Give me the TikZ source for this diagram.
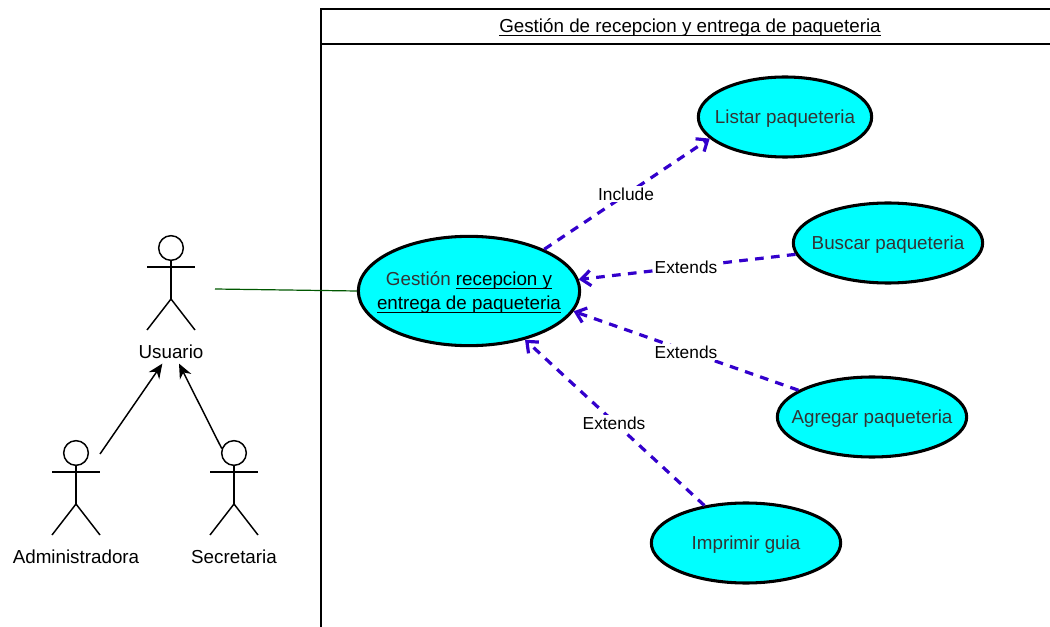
\documentclass[tikz,border=0pt]{standalone}
\usepackage{fontspec}
\setmainfont{Liberation Sans}
\usetikzlibrary{arrows.meta, shapes.geometric, calc}

\definecolor{casefill}{HTML}{00FFFF}
\definecolor{casetext}{HTML}{333333}
\definecolor{dashblue}{HTML}{3300CC}
\definecolor{linkgreen}{HTML}{005700}

\newsavebox{\ulinebox}
\newcommand{\ulin}[1]{\sbox{\ulinebox}{#1}\rlap{\rule[-2.2pt]{\wd\ulinebox}{0.8pt}}\usebox{\ulinebox}}

\tikzset{
    usecase/.style={ellipse, draw, line width=2.3pt, fill=casefill, text=casetext, inner xsep=-24pt, inner ysep=-8pt, text depth=0pt, font=\fontsize{14.1}{18}\selectfont, align=center},
    actorline/.style={line width=1.1pt},
    actorname/.style={font=\fontsize{14.1}{17}\selectfont},
    linklabel/.style={fill=white, inner sep=1pt, font=\fontsize{13}{15}\selectfont},
    dep/.style={draw=dashblue, line width=2.4pt, dash pattern=on 6.5pt off 5.5pt, -{Straight Barb[length=7pt, width=11.5pt, line width=2.4pt]}},
    inherit/.style={line width=1.1pt, -{Stealth[length=11pt, width=9.5pt]}},
    actor/.pic={
        \node[circle, draw, line width=1.1pt, minimum size=18.5pt, inner sep=0pt] (-head) at (0, 0) {};
        \draw[actorline] (-head.south) -- (0, 51);
        \draw[actorline] (-24, 19) -- (24, 19);
        \draw[actorline] (-24, 82) -- (0, 51) -- (24, 82);
    }
}

\begin{document}
\begin{tikzpicture}[x=0.75pt, y=-0.75pt]
    \useasboundingbox (0, 0) rectangle (1050, 627);

    % system frame
    \coordinate (framebl) at (321, 627);
    \coordinate (frametl) at (321, 9);
    \coordinate (frametr) at (1050, 9);
    \coordinate (headl) at (321, 44);
    \coordinate (headr) at (1050, 44);
    \draw[line width=0.9pt] (framebl) -- (frametl) -- (frametr);
    \draw[line width=0.9pt] (headl) -- (headr);
    \node[font=\fontsize{14.1}{16}\selectfont, text depth=0pt] (title) at (690, 26) {\ulin{Gestión de recepcion y entrega de paqueteria}};

    % actors
    \pic (usuario) at (171, 248) {actor};
    \pic (admin) at (76, 453) {actor};
    \pic (secre) at (234, 453) {actor};
    \node[actorname] (usuarioname) at (171, 352) {Usuario};
    \node[actorname] (adminname) at (76, 557) {Administradora};
    \node[actorname] (secrename) at (234, 557) {Secretaria};

    % use cases
    \node[usecase, minimum width=166pt, minimum height=82pt] (gestion) at (469, 291) {Gestión \textcolor{black}{\ulin{recepcion y}}\\\textcolor{black}{\ulin{entrega de paqueteria}}};
    \node[usecase, minimum width=130pt, minimum height=60pt] (listar) at (785, 117) {Listar paqueteria};
    \node[usecase, minimum width=142pt, minimum height=60pt] (buscar) at (888, 243) {Buscar paqueteria};
    \node[usecase, minimum width=142pt, minimum height=60pt] (agregar) at (872, 417) {Agregar paqueteria};
    \node[usecase, minimum width=142pt, minimum height=60pt] (imprimir) at (746, 543) {Imprimir guia};

    % links
    \coordinate (usuarioout) at (215, 289);
    \coordinate (adminout) at (100, 454);
    \draw[linkgreen, line width=0.9pt] (usuarioout) -- (gestion.west);
    \draw[inherit] (adminout) -- ([xshift=-6.5pt]usuarioname.south);
    \draw[inherit] (secre-head.160) -- ([xshift=6pt]usuarioname.south);

    \draw[dep] (gestion.29) -- (listar.196);
    \draw[dep] (buscar.187) -- (gestion.6);
    \draw[dep] (agregar.160) -- (gestion.-11);
    \draw[dep] (imprimir.138) -- (gestion.-41);

    \node[linklabel] (includelabel) at (626, 194) {Include};
    \node[linklabel] (buscarlabel) at (686, 267) {Extends};
    \node[linklabel] (agregarlabel) at (686, 352) {Extends};
    \node[linklabel] (imprimirlabel) at (614, 423) {Extends};
\end{tikzpicture}
\end{document}
